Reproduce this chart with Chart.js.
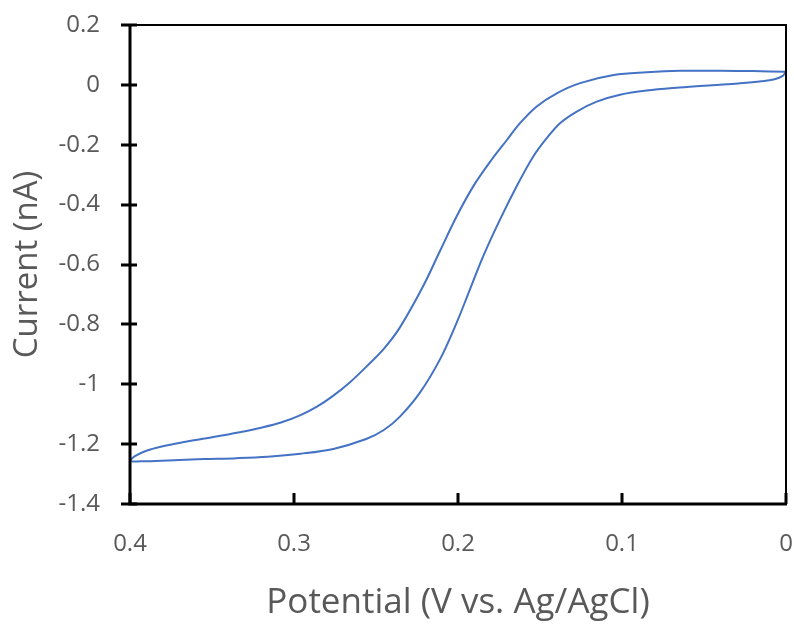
<!DOCTYPE html>
<html>
<head>
<meta charset="utf-8">
<script src="https://cdn.jsdelivr.net/npm/chart.js@4/dist/chart.umd.min.js"></script>
<style>
  html, body { margin: 0; padding: 0; background: #fff; }
  #wrap { width: 794px; height: 627px; }
</style>
</head>
<body>
<div id="wrap"><canvas id="grafico"></canvas></div>
<script>
// barrido de ida (0 -> 0.4 V)
let potencialIda = [0, 0.02, 0.04, 0.065, 0.085, 0.105, 0.1256, 0.1398, 0.152, 0.1622, 0.1703, 0.1795, 0.1907, 0.2008, 0.211, 0.2212, 0.2354, 0.245, 0.256, 0.266, 0.276, 0.286, 0.296, 0.308, 0.32, 0.334, 0.35, 0.368, 0.38, 0.39, 0.397, 0.4];
let corrienteIda = [0.044, 0.046, 0.047, 0.047, 0.042, 0.033, 0.006, -0.028, -0.072, -0.128, -0.185, -0.25, -0.339, -0.439, -0.555, -0.672, -0.81, -0.88, -0.942, -0.994, -1.038, -1.075, -1.103, -1.128, -1.145, -1.161, -1.177, -1.194, -1.207, -1.222, -1.24, -1.256];

// barrido de vuelta (0.4 -> 0 V)
let potencialVuelta = [0.39, 0.37, 0.355, 0.335, 0.316, 0.296, 0.276, 0.256, 0.245, 0.2354, 0.2232, 0.211, 0.2008, 0.1927, 0.1846, 0.1744, 0.1632, 0.1541, 0.1459, 0.1378, 0.1276, 0.1154, 0.1012, 0.085, 0.065, 0.045, 0.029, 0.015, 0.007, 0.002, 0];
let corrienteVuelta = [-1.257, -1.253, -1.25, -1.247, -1.242, -1.232, -1.216, -1.183, -1.152, -1.108, -1.028, -0.917, -0.794, -0.683, -0.572, -0.45, -0.328, -0.239, -0.178, -0.128, -0.089, -0.056, -0.033, -0.019, -0.009, -0.001, 0.005, 0.012, 0.019, 0.03, 0.044];

let ticksX = [0.4, 0.3, 0.2, 0.1, 0];
let ticksY = [0.2, 0, -0.2, -0.4, -0.6, -0.8, -1, -1.2, -1.4];

let tituloX = "Potential (V vs. Ag/AgCl)";
let tituloY = "Current (nA)";

let armarPuntos = () => {
    let puntos = [];
    for (let i = 0; i < potencialIda.length; i++) {
        puntos.push({x: potencialIda[i], y: corrienteIda[i]});
    }
    for (let i = 0; i < potencialVuelta.length; i++) {
        puntos.push({x: potencialVuelta[i], y: corrienteVuelta[i]});
    }
    return puntos;
}

let gris = "#595959";
let fuente = "'Open Sans', 'Noto Sans', sans-serif";

// marco y marcas de los ejes al estilo Excel
let marco = {
    id: "marco",
    afterDraw: (chart) => {
        let ctx = chart.ctx;
        let area = chart.chartArea;
        let sx = chart.scales.x;
        let sy = chart.scales.y;
        ctx.save();
        ctx.strokeStyle = "#000";
        ctx.lineWidth = 2;
        ctx.beginPath();
        ctx.moveTo(area.left, area.top);
        ctx.lineTo(area.right, area.top);
        ctx.lineTo(area.right, area.bottom);
        ctx.stroke();
        ctx.lineWidth = 3;
        ctx.beginPath();
        ctx.moveTo(area.left, area.top - 1);
        ctx.lineTo(area.left, area.bottom);
        ctx.lineTo(area.right + 1, area.bottom);
        ctx.stroke();
        ctx.beginPath();
        ticksY.forEach(v => {
            let py = Math.round(sy.getPixelForValue(v));
            ctx.moveTo(area.left - 9, py);
            ctx.lineTo(area.left + 7, py);
        });
        ticksX.forEach(v => {
            let px = Math.round(sx.getPixelForValue(v));
            ctx.moveTo(px, area.bottom);
            ctx.lineTo(px, area.bottom - 11);
        });
        ctx.stroke();
        ctx.restore();
    }
};

let config = {
    type: "scatter",
    data: {
        datasets: [{
            label: "CV",
            data: armarPuntos(),
            showLine: true,
            borderColor: "#4472C4",
            borderWidth: 2,
            pointRadius: 0,
            tension: 0.35,
            fill: false
        }]
    },
    options: {
        responsive: true,
        maintainAspectRatio: false,
        animation: false,
        layout: { padding: { top: 25, right: 8, left: 0, bottom: 0 } },
        plugins: {
            legend: { display: false },
            tooltip: { enabled: false }
        },
        scales: {
            x: {
                type: "linear",
                reverse: true,
                min: 0,
                max: 0.4,
                afterFit: (escala) => {
                    escala.height = 123;
                    escala.paddingLeft = 0;
                    escala.paddingRight = 0;
                },
                afterBuildTicks: (escala) => { escala.ticks = ticksX.map(v => ({value: v})); },
                grid: { display: false, drawTicks: false },
                border: { display: false },
                ticks: {
                    color: gris,
                    font: { family: fuente, size: 24 },
                    padding: 26,
                    maxRotation: 0,
                    callback: (v) => String(Math.round(v * 10) / 10)
                },
                title: {
                    display: true,
                    text: tituloX,
                    color: gris,
                    font: { family: fuente, size: 35 },
                    padding: { top: 0, bottom: 3 }
                }
            },
            y: {
                type: "linear",
                min: -1.4,
                max: 0.2,
                afterFit: (escala) => {
                    escala.width = 130;
                    escala.paddingTop = 0;
                    escala.paddingBottom = 0;
                },
                afterBuildTicks: (escala) => { escala.ticks = ticksY.map(v => ({value: v})); },
                grid: { display: false, drawTicks: false },
                border: { display: false },
                ticks: {
                    color: gris,
                    font: { family: fuente, size: 24 },
                    padding: 30,
                    callback: (v) => String(Math.round(v * 10) / 10)
                },
                title: {
                    display: true,
                    text: tituloY,
                    color: gris,
                    font: { family: fuente, size: 33 },
                    padding: { top: 8, bottom: 0 }
                }
            }
        }
    },
    plugins: [marco]
};

new Chart(document.getElementById("grafico"), config);
</script>
</body>
</html>
